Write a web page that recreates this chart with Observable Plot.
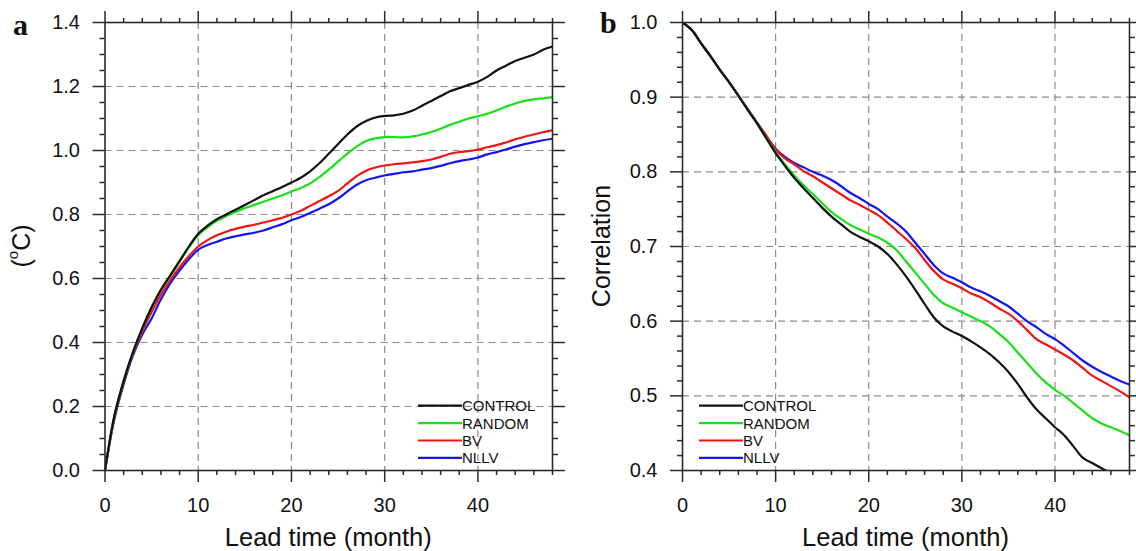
<!DOCTYPE html>
<html><head><meta charset="utf-8">
<script src="https://cdn.jsdelivr.net/npm/d3@7"></script>
<script src="https://cdn.jsdelivr.net/npm/@observablehq/plot@0.6"></script>
<style>
body{margin:0;background:#fff;}
#wrap{position:relative;width:1136px;height:551px;background:#fff;overflow:hidden;}
#wrap > svg{position:absolute;top:0;}
</style></head><body><div id="wrap"></div>
<script>
// ---------- data ----------
const leadTime = [0,1,2,3,4,5,6,7,8,9,10,11,12,13,14,15,16,17,18,19,20,21,22,23,24,25,26,27,28,29,30,31,32,33,34,35,36,37,38,39,40,41,42,43,44,45,46,47,48];
const seriesNames = ["CONTROL","RANDOM","BV","NLLV"];
const seriesColors = ["#111111","#19e019","#f01414","#1414f0"];

// panel a: RMSE (°C)
const rmseControl = [0,0.17,0.28,0.37,0.445,0.51,0.565,0.61,0.655,0.70,0.74,0.765,0.785,0.80,0.815,0.83,0.845,0.86,0.873,0.886,0.90,0.915,0.935,0.96,0.99,1.02,1.05,1.075,1.092,1.103,1.108,1.11,1.115,1.125,1.14,1.155,1.17,1.185,1.195,1.205,1.215,1.23,1.25,1.265,1.28,1.29,1.30,1.315,1.325];
const rmseRandom  = [0,0.17,0.28,0.37,0.445,0.51,0.565,0.608,0.652,0.697,0.735,0.76,0.78,0.795,0.808,0.82,0.83,0.84,0.85,0.86,0.872,0.883,0.897,0.917,0.94,0.965,0.99,1.012,1.03,1.038,1.042,1.042,1.041,1.044,1.05,1.058,1.068,1.08,1.09,1.10,1.107,1.115,1.125,1.137,1.147,1.155,1.16,1.163,1.167];
const rmseBV      = [0,0.165,0.275,0.365,0.435,0.495,0.55,0.595,0.635,0.67,0.70,0.72,0.735,0.746,0.755,0.762,0.768,0.775,0.782,0.79,0.80,0.812,0.827,0.842,0.857,0.874,0.897,0.92,0.937,0.947,0.953,0.957,0.96,0.963,0.967,0.972,0.98,0.99,0.995,0.998,1.003,1.01,1.017,1.025,1.035,1.043,1.05,1.057,1.063];
const rmseNLLV    = [0,0.16,0.27,0.36,0.425,0.475,0.535,0.585,0.625,0.66,0.69,0.705,0.715,0.725,0.732,0.738,0.743,0.75,0.76,0.77,0.782,0.792,0.805,0.818,0.832,0.85,0.872,0.893,0.907,0.915,0.922,0.927,0.932,0.935,0.94,0.945,0.952,0.96,0.967,0.972,0.978,0.988,0.995,1.003,1.012,1.02,1.026,1.032,1.037];

// panel b: correlation
const corrControl = [1.0,0.99,0.972,0.955,0.937,0.92,0.902,0.883,0.865,0.845,0.825,0.808,0.792,0.778,0.765,0.752,0.74,0.73,0.72,0.713,0.707,0.70,0.69,0.676,0.66,0.642,0.623,0.605,0.593,0.586,0.58,0.573,0.565,0.556,0.545,0.532,0.516,0.498,0.482,0.47,0.458,0.447,0.432,0.417,0.41,0.403,0.397,0.392,0.387];
const corrRandom  = [1.0,0.99,0.972,0.955,0.937,0.92,0.902,0.883,0.865,0.845,0.826,0.81,0.795,0.782,0.77,0.758,0.746,0.737,0.729,0.723,0.717,0.712,0.705,0.695,0.68,0.665,0.65,0.635,0.624,0.618,0.612,0.606,0.60,0.593,0.583,0.572,0.558,0.544,0.53,0.518,0.508,0.50,0.49,0.48,0.47,0.463,0.458,0.453,0.447];
const corrBV      = [1.0,0.99,0.972,0.955,0.937,0.92,0.902,0.884,0.866,0.848,0.83,0.818,0.81,0.801,0.794,0.786,0.778,0.77,0.762,0.756,0.749,0.742,0.732,0.721,0.71,0.698,0.682,0.667,0.656,0.65,0.644,0.637,0.632,0.625,0.617,0.61,0.60,0.588,0.576,0.569,0.562,0.555,0.547,0.537,0.527,0.52,0.513,0.506,0.498];
const corrNLLV    = [1.0,0.99,0.972,0.955,0.937,0.92,0.902,0.884,0.866,0.848,0.831,0.82,0.812,0.806,0.80,0.795,0.789,0.781,0.772,0.765,0.757,0.75,0.74,0.731,0.72,0.705,0.69,0.675,0.664,0.658,0.652,0.645,0.64,0.634,0.627,0.62,0.61,0.60,0.592,0.583,0.576,0.567,0.557,0.547,0.539,0.532,0.526,0.52,0.515];

const xTicks = [0,10,20,30,40];
const xGrid = [10,20,30,40];
const rmseTicks = [0,0.2,0.4,0.6,0.8,1.0,1.2,1.4];
const rmseGrid = [0.2,0.4,0.6,0.8,1.0,1.2];
const corrTicks = [0.4,0.5,0.6,0.7,0.8,0.9,1.0];
const corrGrid = [0.5,0.6,0.7,0.8,0.9];

// ---------- helpers ----------
function table(arrs){
  const out = [];
  for (let s = arrs.length - 1; s >= 0; s--) {
    arrs[s].forEach((v, i) => out.push({month: leadTime[i], value: v, series: seriesNames[s]}));
  }
  return out;
}
function minorTicks(lo, hi, step, majors){
  const n = Math.round((hi - lo) / step);
  const t = [];
  for (let i = 0; i <= n; i++) {
    const v = +(lo + i * step).toFixed(4);
    if (!majors.some(m => Math.abs(m - v) < 1e-6)) t.push(v);
  }
  return t;
}

const W = 568, H = 551, MT = 22, MB = 81;
const axisColor = "#2a2a2a";
const font = "'Liberation Sans', Arial, Helvetica, sans-serif";

function panel({arrs, yDomain, yTicks, yGrid, yMinorStep, marginLeft, marginRight}){
  const xMinor = minorTicks(0, 48, 2, xTicks);
  const yMinor = minorTicks(yDomain[0], yDomain[1], yMinorStep, yTicks);
  const tickOpts = {stroke: axisColor, strokeWidth: 1.5};
  const noText = () => "";
  return Plot.plot({
    width: W, height: H,
    marginLeft, marginRight, marginTop: MT, marginBottom: MB,
    style: {fontFamily: font, fontSize: "20px", color: axisColor, background: "transparent", overflow: "visible"},
    x: {domain: [0, 48], axis: null},
    y: {domain: yDomain, axis: null},
    color: {domain: seriesNames, range: seriesColors},
    marks: [
      Plot.gridX(xGrid, {stroke: "#8a8a8a", strokeOpacity: 1, strokeWidth: 1.2, strokeDasharray: "7,5"}),
      Plot.gridY(yGrid, {stroke: "#8a8a8a", strokeOpacity: 1, strokeWidth: 1.2, strokeDasharray: "7,5"}),
      Plot.line(table(arrs), {x: "month", y: "value", z: "series", stroke: "series", strokeWidth: 2.2, curve: "catmull-rom", clip: true}),
      Plot.frame({stroke: axisColor, strokeWidth: 1.6}),
      Plot.axisX(xTicks, {anchor: "bottom", tickSize: 12, tickPadding: 15, ...tickOpts, fill: "#111", fontSize: 20, label: null, tickFormat: d => String(d)}),
      Plot.axisX(xMinor, {anchor: "bottom", tickSize: 5, ...tickOpts, label: null, tickFormat: noText}),
      Plot.axisX(xTicks, {anchor: "top", tickSize: 12, ...tickOpts, label: null, tickFormat: noText}),
      Plot.axisX(xMinor, {anchor: "top", tickSize: 5, ...tickOpts, label: null, tickFormat: noText}),
      Plot.axisY(yTicks, {anchor: "left", tickSize: 12, tickPadding: 13, ...tickOpts, fill: "#111", fontSize: 20, label: null, tickFormat: d3.format(".1f")}),
      Plot.axisY(yMinor, {anchor: "left", tickSize: 5, ...tickOpts, label: null, tickFormat: noText}),
      Plot.axisY(yTicks, {anchor: "right", tickSize: 12, ...tickOpts, label: null, tickFormat: noText}),
      Plot.axisY(yMinor, {anchor: "right", tickSize: 5, ...tickOpts, label: null, tickFormat: noText})
    ]
  });
}

function decorate(svg, {letter, letterX, letterY, yLabelX, legendX, xCenter, yLabel}){
  const s = d3.select(svg);
  const g = s.append("g").attr("font-family", font).attr("fill", "#111").attr("text-anchor", "start");
  g.append("text").attr("x", letterX).attr("y", letterY).attr("text-anchor", "start")
    .attr("font-family", "'Liberation Serif', 'Times New Roman', serif")
    .attr("font-weight", "bold").attr("font-size", 30).text(letter);
  g.append("text").attr("x", xCenter).attr("y", 546).attr("text-anchor", "middle")
    .attr("font-size", 25.5).text("Lead time (month)");
  const yt = g.append("text").attr("transform", `translate(${yLabelX},${(MT + H - MB) / 2}) rotate(-90)`)
    .attr("text-anchor", "middle").attr("dominant-baseline", "central").attr("font-size", 25);
  yLabel(yt);
  const rowY = [405.7, 423.1, 440.5, 457.9];
  seriesNames.forEach((name, i) => {
    g.append("line").attr("x1", legendX).attr("x2", legendX + 44)
      .attr("y1", rowY[i]).attr("y2", rowY[i])
      .attr("stroke", seriesColors[i]).attr("stroke-width", 2.2);
    g.append("text").attr("x", legendX + 44).attr("y", rowY[i]).attr("text-anchor", "start")
      .attr("dominant-baseline", "central").attr("font-size", 15).text(name);
  });
}

const wrap = document.getElementById("wrap");

const left = panel({arrs: [rmseControl, rmseRandom, rmseBV, rmseNLLV], yDomain: [0, 1.4], yTicks: rmseTicks, yGrid: rmseGrid, yMinorStep: 0.05, marginLeft: 104.5, marginRight: 16});
left.style.left = "0px";
wrap.appendChild(left);
decorate(left, {letter: "a", letterX: 13, letterY: 35, yLabelX: 21, legendX: 418, xCenter: (104.5 + W - 16) / 2,
  yLabel: t => { t.append("tspan").text("("); t.append("tspan").attr("font-size", 15).attr("dy", -9).text("o"); t.append("tspan").attr("dy", 9).text("C)"); }});

const right = panel({arrs: [corrControl, corrRandom, corrBV, corrNLLV], yDomain: [0.4, 1.0], yTicks: corrTicks, yGrid: corrGrid, yMinorStep: 0.02, marginLeft: 114, marginRight: 7});
right.style.left = "568px";
wrap.appendChild(right);
decorate(right, {letter: "b", letterX: 32, letterY: 33, yLabelX: 33, legendX: 131, xCenter: (114 + W - 7) / 2,
  yLabel: t => t.text("Correlation")});
</script></body></html>
